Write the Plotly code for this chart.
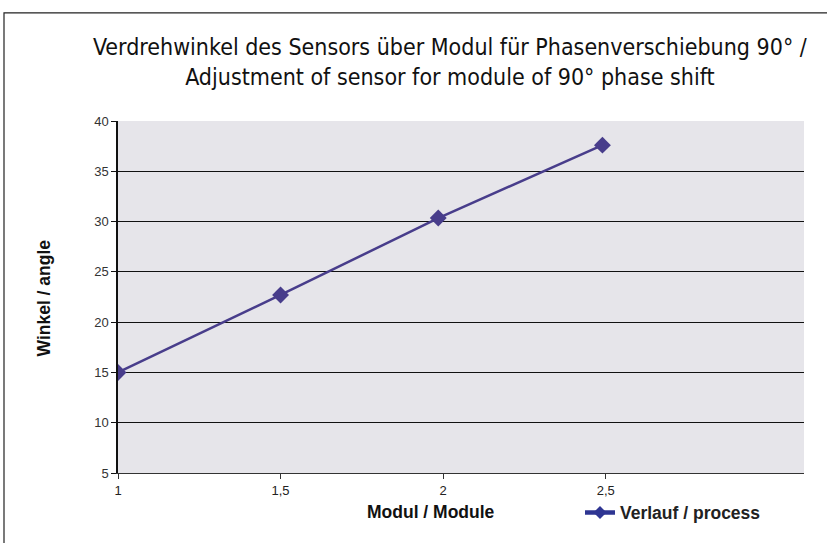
import plotly.graph_objects as go

modul = [1.0, 1.5, 1.985, 2.49]
winkel = [15.0, 22.7, 30.35, 37.6]
x_tick_vals = [1, 1.5, 2, 2.5]
x_tick_text = ["1", "1,5", "2", "2,5"]
y_tick_vals = [5, 10, 15, 20, 25, 30, 35, 40]

title_text = "Verdrehwinkel des Sensors über Modul für Phasenverschiebung 90° /<br>Adjustment of sensor for module of 90° phase shift"

W, H = 827, 543
L, R, T, B = 118, 804, 121, 476

def px2x(p):
    return (p - L) / (R - L)

def py2y(p):
    return (B - p) / (B - T)

fig = go.Figure()
fig.add_trace(go.Scatter(
    x=modul, y=winkel, mode="lines+markers", name="Verlauf / process",
    line=dict(color="#483D8B", width=2.5),
    marker=dict(symbol="diamond", size=13, color="#483D8B"),
    showlegend=False,
))
fig.add_trace(go.Scatter(
    x=[None], y=[None], mode="lines+markers", name="<b>Verlauf / process</b>",
    line=dict(color="#2E3592", width=4.5),
    marker=dict(symbol="diamond", size=10, color="#2E3592"),
    showlegend=True,
))

fig.update_layout(
    width=W, height=H,
    margin=dict(l=L, r=W - R, t=T, b=H - B, pad=0),
    paper_bgcolor="white",
    plot_bgcolor="#E6E5EA",
    showlegend=True,
    legend=dict(x=px2x(580), y=py2y(516), xanchor="left", yanchor="middle",
                font=dict(family="Liberation Sans, Arial", size=17.5, color="#222"),
                bgcolor="rgba(0,0,0,0)", itemwidth=30),
    xaxis=dict(range=[1, 3.11], tickvals=x_tick_vals, ticktext=x_tick_text,
               showgrid=False, zeroline=False, showline=True, linecolor="#333", linewidth=1,
               ticks="outside", ticklen=5, tickcolor="#333",
               tickfont=dict(family="Liberation Sans, Arial", size=13, color="#222")),
    yaxis=dict(range=[5, 40], tickvals=y_tick_vals,
               showgrid=True, gridcolor="#111", gridwidth=1.3, zeroline=False,
               showline=True, linecolor="#111", linewidth=1.5,
               ticks="outside", ticklen=5, tickcolor="#111",
               tickfont=dict(family="Liberation Sans, Arial", size=13, color="#333")),
    shapes=[dict(type="rect", xref="paper", yref="paper",
                 x0=px2x(4), x1=px2x(840), y0=py2y(560), y1=py2y(12),
                 line=dict(color="#222", width=1.2), fillcolor="rgba(0,0,0,0)", layer="below")],
    annotations=[
        dict(text=title_text, xref="paper", yref="paper", x=px2x(450), y=py2y(62),
             xanchor="center", yanchor="middle", showarrow=False, align="center",
             font=dict(family="Liberation Sans Narrow, DejaVu Sans Condensed", size=23, color="#111")),
        dict(text="<b>Modul / Module</b>", xref="paper", yref="paper", x=px2x(431), y=py2y(515),
             xanchor="center", yanchor="middle", showarrow=False,
             font=dict(family="Liberation Sans, Arial", size=17.5, color="#111")),
        dict(text="<b>Winkel / angle</b>", xref="paper", yref="paper", x=px2x(44), y=py2y(300),
             xanchor="center", yanchor="middle", showarrow=False, textangle=-90,
             font=dict(family="Liberation Sans, Arial", size=17.5, color="#111")),
    ],
)

fig.write_html("out.html", config={"displayModeBar": False},
               post_script="document.body.style.margin='0';document.body.style.overflow='hidden';")
